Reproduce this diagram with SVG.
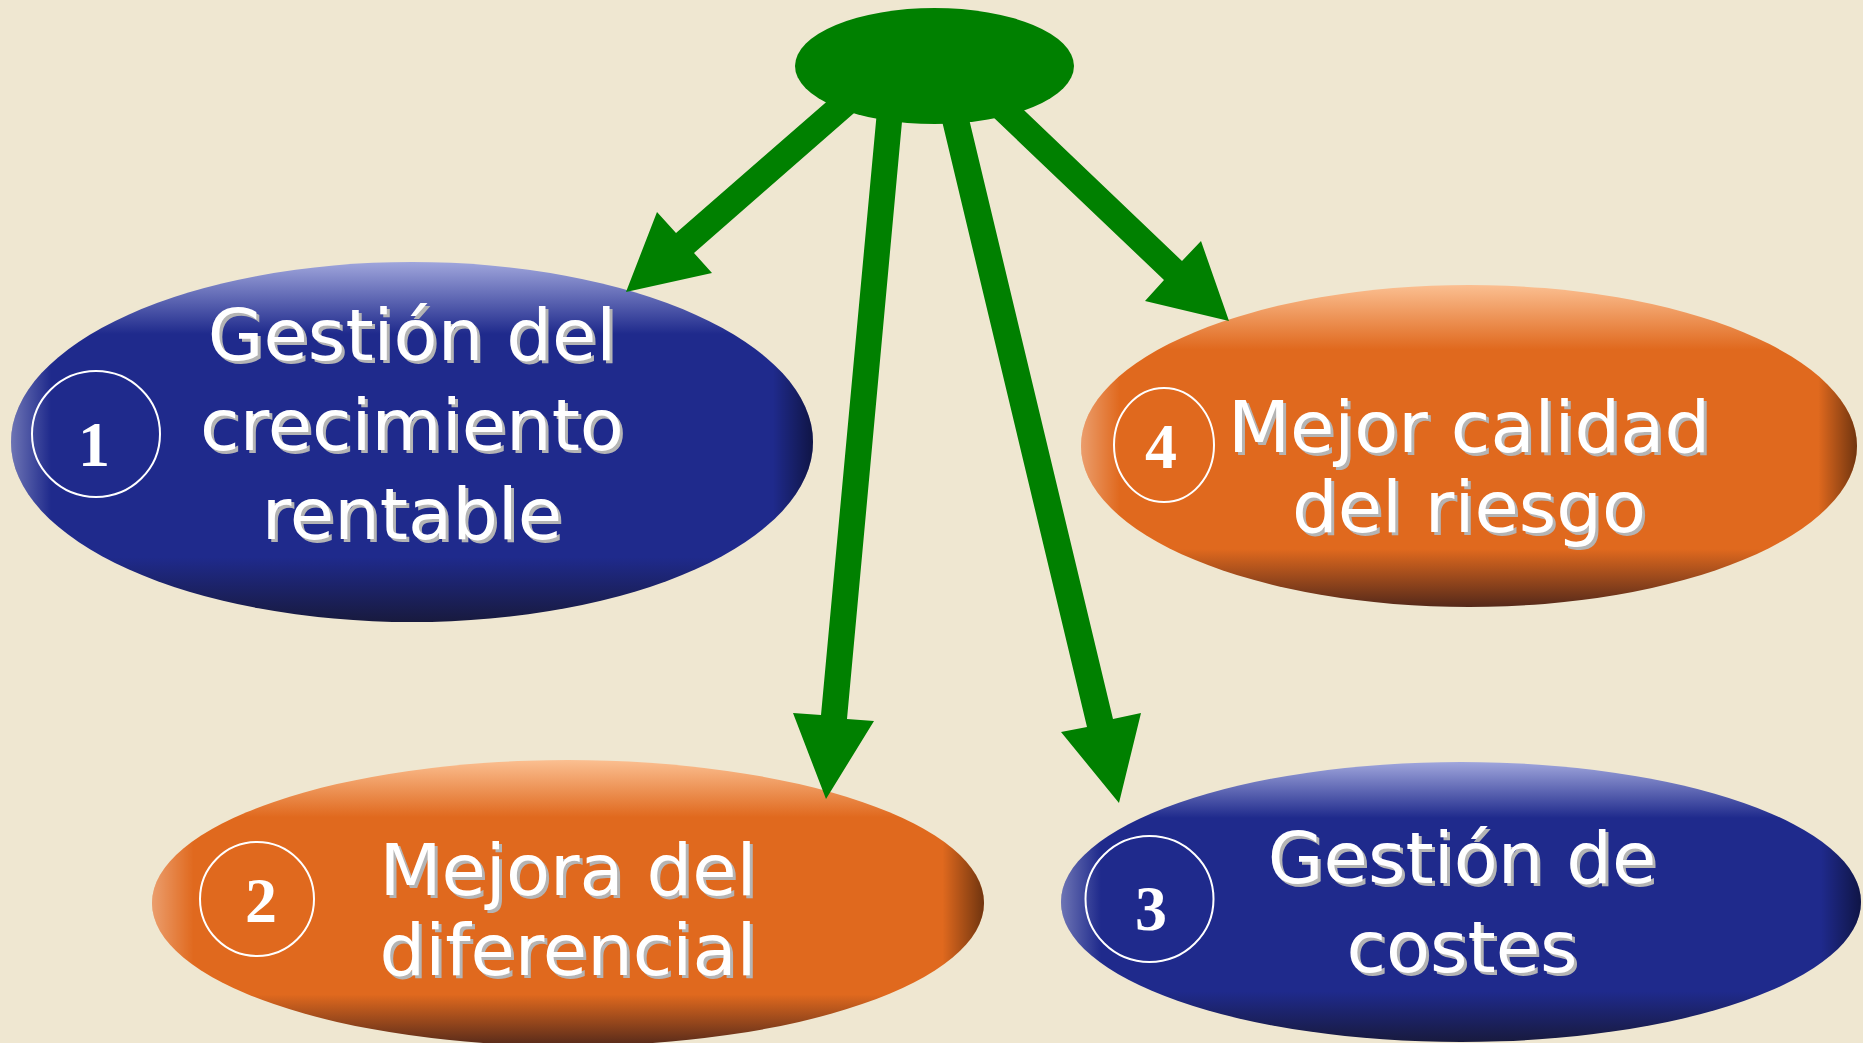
<svg xmlns="http://www.w3.org/2000/svg" xmlns:xlink="http://www.w3.org/1999/xlink" width="1863" height="1043" viewBox="0 0 1863 1043">
<style>
.lbl{font-family:"DejaVu Sans","Verdana",sans-serif;font-size:72px;text-anchor:middle}
.sh{fill:#b4b4b4}
.fg{fill:#ffffff}
.num{font-family:"Liberation Serif","Times New Roman",serif;font-size:64px;font-weight:bold;fill:#ffffff;text-anchor:middle}
.ring{fill:none;stroke:#ffffff;stroke-width:2}
.arrow{fill:#008000}
</style>
<defs>
<linearGradient id="gBlue" x1="0" y1="0" x2="0" y2="1">
<stop offset="0" stop-color="#a0a6dc"/>
<stop offset="0.2" stop-color="#1f2a8c"/>
<stop offset="0.82" stop-color="#1f2a8c"/>
<stop offset="1" stop-color="#181a3e"/>
</linearGradient>
<linearGradient id="gOrange" x1="0" y1="0" x2="0" y2="1">
<stop offset="0" stop-color="#fbbf91"/>
<stop offset="0.2" stop-color="#e0691e"/>
<stop offset="0.82" stop-color="#e0691e"/>
<stop offset="1" stop-color="#55291a"/>
</linearGradient>
<linearGradient id="gSide" x1="0" y1="0" x2="1" y2="0">
<stop offset="0" stop-color="#ffffff" stop-opacity="0.35"/>
<stop offset="0.05" stop-color="#ffffff" stop-opacity="0"/>
<stop offset="0.95" stop-color="#000000" stop-opacity="0"/>
<stop offset="1" stop-color="#000000" stop-opacity="0.5"/>
</linearGradient>
<text id="t1" class="lbl"><tspan x="412" y="360">Gestión del</tspan><tspan x="412" y="450">crecimiento</tspan><tspan x="412" y="539">rentable</tspan></text>
<text id="t2" class="lbl"><tspan x="568" y="895">Mejora del</tspan><tspan x="568" y="975">diferencial</tspan></text>
<text id="t3" class="lbl"><tspan x="1462" y="883">Gestión de</tspan><tspan x="1462" y="972">costes</tspan></text>
<text id="t4" class="lbl"><tspan x="1469" y="452">Mejor calidad</tspan><tspan x="1469" y="532">del riesgo</tspan></text>
</defs>
<rect width="1863" height="1043" fill="#efe7d1"/>
<g id="node1">
<ellipse cx="412" cy="442" rx="401" ry="180" fill="url(#gBlue)"/>
<ellipse cx="412" cy="442" rx="401" ry="180" fill="url(#gSide)"/>
<ellipse class="ring" cx="96" cy="434" rx="64" ry="63"/>
<text class="num" x="94" y="466">1</text>
<use href="#t1" class="sh" x="3" y="3"/>
<use href="#t1" class="fg"/>
</g>
<g id="node2">
<ellipse cx="568" cy="903" rx="416" ry="143" fill="url(#gOrange)"/>
<ellipse cx="568" cy="903" rx="416" ry="143" fill="url(#gSide)"/>
<ellipse class="ring" cx="257" cy="899" rx="57" ry="57"/>
<text class="num" x="261" y="922">2</text>
<use href="#t2" class="sh" x="3" y="3"/>
<use href="#t2" class="fg"/>
</g>
<g id="node3">
<ellipse cx="1461" cy="902" rx="400" ry="140" fill="url(#gBlue)"/>
<ellipse cx="1461" cy="902" rx="400" ry="140" fill="url(#gSide)"/>
<ellipse class="ring" cx="1149.5" cy="899" rx="64" ry="63"/>
<text class="num" x="1151" y="930">3</text>
<use href="#t3" class="sh" x="3" y="3"/>
<use href="#t3" class="fg"/>
</g>
<g id="node4">
<ellipse cx="1469" cy="446" rx="388" ry="161" fill="url(#gOrange)"/>
<ellipse cx="1469" cy="446" rx="388" ry="161" fill="url(#gSide)"/>
<ellipse class="ring" cx="1164" cy="445" rx="50" ry="57"/>
<text class="num" x="1161" y="468">4</text>
<use href="#t4" class="sh" x="3" y="3"/>
<use href="#t4" class="fg"/>
</g>
<g id="connectors">
<polygon class="arrow" points="847,84 676,233 657,212 626,292 712,273 694,253 877,93"/>
<polygon class="arrow" points="878,100 821,715 793,713 826,799 874,721 847,719 904,100"/>
<polygon class="arrow" points="937,100 1087,727 1061,732 1119,803 1141,713 1113,719 964.5,100"/>
<polygon class="arrow" points="971,96 1164,280 1145,301 1229,321 1201,241 1182,261 1003,90"/>
</g>
<g id="hub">
<ellipse cx="934.5" cy="66" rx="139.5" ry="58" fill="#008000"/>
</g>
</svg>
